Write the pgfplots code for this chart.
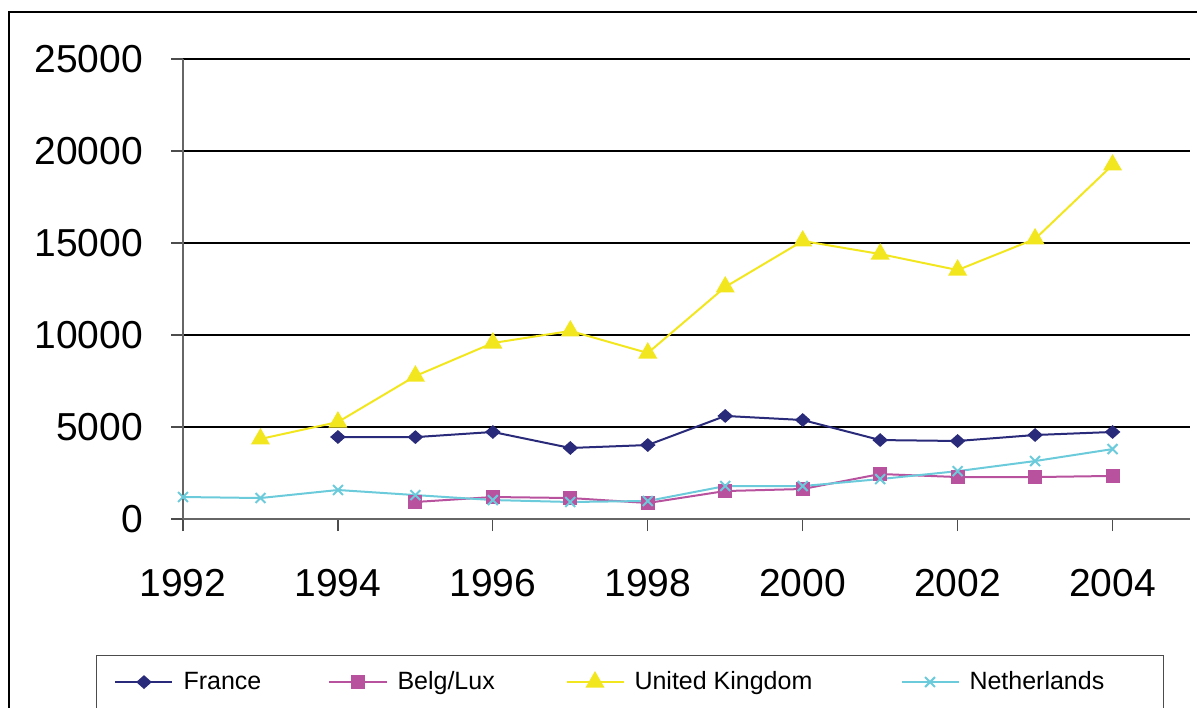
\documentclass[border=0pt]{standalone}
\usepackage{pgfplots}
\pgfplotsset{compat=1.18}
\usepackage{fontspec}
\setmainfont{Liberation Sans}
\definecolor{cFr}{HTML}{2A2A7A}
\definecolor{cBe}{HTML}{B8529F}
\definecolor{cUK}{HTML}{F2E61E}
\definecolor{cNl}{HTML}{6CCBDB}
\begin{document}
\begin{tikzpicture}
\draw[black, line width=0.8pt] (4.5pt,-20pt) -- (4.5pt,347.5pt) -- (620pt,347.5pt);
\begin{axis}[
 at={(91.5pt,94pt)}, anchor=south west,
 scale only axis, width=503.5pt, height=230pt,
 xmin=1992, xmax=2005, ymin=0, ymax=25000,
 xtick={1992,1994,...,2004}, ytick={0,5000,...,25000},
 scaled y ticks=false,
 axis x line*=bottom, axis y line*=left,
 axis line style={black!60, line width=0.6pt, -},
 ymajorgrids, grid style={black, line width=0.6pt},
 tick align=outside, major tick length=6pt,
 tick style={black!70, line width=0.6pt},
 /pgf/number format/1000 sep={},
 /pgf/number format/assume math mode=true,
 tick label style={font=\fontsize{19.5}{20}\selectfont},
 xticklabel style={yshift=-15.5pt},
 yticklabel style={xshift=-10.5pt},
 clip=false,
 legend columns=4,
 legend style={at={(-0.0864,-0.2957)}, anchor=north west, draw=black!70, line width=0.5pt, inner xsep=9pt, inner ysep=6pt, font=\fontsize{12.5}{13}\selectfont, /tikz/every even column/.style={column sep=0pt}},
 legend cell align=left,
 legend image code/.code={\draw[mark repeat=2,mark phase=2,#1] plot coordinates {(0pt,0pt)(14.25pt,0pt)(28.5pt,0pt)};},
]
\addplot[cFr, line width=1pt, mark=diamond*, mark size=2.8pt, mark options={xscale=1.5, solid, fill=cFr}] coordinates {
(1994,4457)(1995,4450)(1996,4730)(1997,3860)(1998,4020)(1999,5600)(2000,5380)(2001,4290)(2002,4240)(2003,4565)(2004,4730)};
\addlegendentry{\makebox[73.5pt][l]{\hspace{3pt}France}}
\addplot[cBe, line width=1pt, mark=square*, mark size=3pt, mark options={solid, fill=cBe}] coordinates {
(1995,924)(1996,1195)(1997,1140)(1998,870)(1999,1520)(2000,1630)(2001,2445)(2002,2280)(2003,2280)(2004,2340)};
\addlegendentry{\makebox[85pt][l]{\hspace{3pt}Belg/Lux}}
\addplot[cUK, line width=1pt, mark=triangle*, mark size=4.5pt, mark options={solid, fill=cUK}] coordinates {
(1993,4350)(1994,5270)(1995,7770)(1996,9565)(1997,10220)(1998,9020)(1999,12610)(2000,15110)(2001,14400)(2002,13530)(2003,15220)(2004,19240)};
\addlegendentry{\makebox[134pt][l]{\hspace{3pt}United Kingdom}}
\addplot[cNl, line width=1pt, mark=x, mark size=3.5pt, mark options={solid}] coordinates {
(1992,1195)(1993,1140)(1994,1576)(1995,1300)(1996,1030)(1997,924)(1998,980)(1999,1790)(2000,1790)(2001,2170)(2002,2600)(2003,3150)(2004,3800)};
\addlegendentry{\makebox[89pt][l]{\hspace{3pt}Netherlands}}
\end{axis}
\pgfresetboundingbox
\path[use as bounding box] (0,0) rectangle (598.5pt,353.5pt);
\end{tikzpicture}
\end{document}
